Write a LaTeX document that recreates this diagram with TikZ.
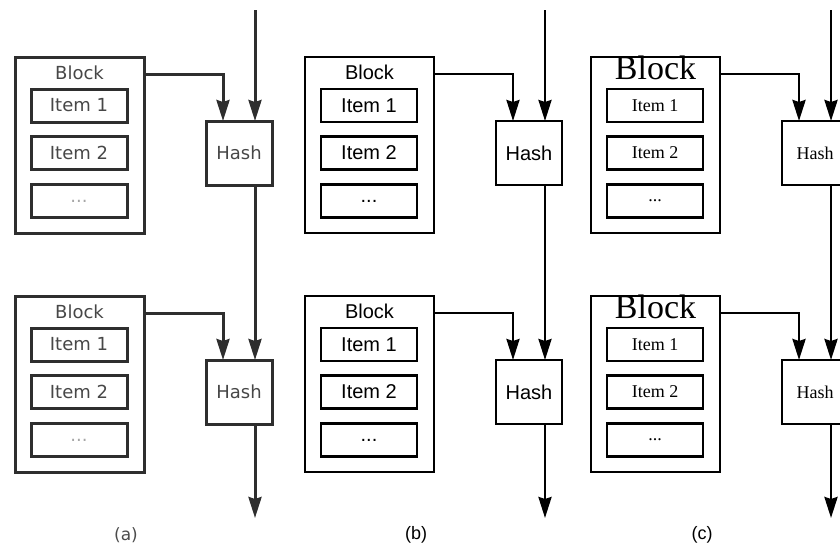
\documentclass[tikz,border=0pt]{standalone}
\usepackage{fontspec}
\usetikzlibrary{arrows.meta}
\newfontfamily\sansf{Liberation Sans}
\newfontfamily\serff{Liberation Serif}
\newfontfamily\dejaf{DejaVu Sans}

\tikzset{
	blockbox/.style={draw,ln,minimum width=129pt,minimum height=176pt,inner sep=0,outer sep=0},
	itembox/.style={draw,ln,txt,minimum width=96pt,minimum height=33pt,inner sep=0,outer sep=0},
	hashbox/.style={draw,ln,txt,minimum width=66pt,minimum height=64pt,inner sep=0,outer sep=0},
	panel a/.style={
		ln/.style={draw=black!82,line width=3pt},
		txt/.style={font=\dejaf\fontsize{18}{20}\selectfont,text=black!72},
		ttl/.style={txt},
		dots/.style={text=black!35},
		sublbl/.style={font=\dejaf\fontsize{17}{19}\selectfont,text=black!70}},
	panel b/.style={
		ln/.style={draw=black,line width=2.6pt},
		txt/.style={font=\sansf\fontsize{20}{22}\selectfont},
		ttl/.style={txt},
		dots/.style={},
		sublbl/.style={font=\sansf\fontsize{18}{20}\selectfont}},
	panel c/.style={
		ln/.style={draw=black,line width=2.9pt},
		txt/.style={font=\serff\fontsize{18}{20}\selectfont},
		ttl/.style={font=\serff\fontsize{34}{36}\selectfont},
		dots/.style={},
		sublbl/.style={font=\sansf\fontsize{18}{20}\selectfont}},
	>={Stealth[length=21pt,width=13pt,inset=2pt]}
}

\begin{document}
\begin{tikzpicture}[x=1pt,y=-1pt]
	\useasboundingbox (0,0) rectangle (840,546);
	\clip (0,0) rectangle (840,546);
	\foreach \dx/\p in {0/a,290/b,576/c} {
		\begin{scope}[xshift=\dx pt,panel \p]
			\foreach \r/\dy in {1/0,2/239} {
				% block with its items
				\node[blockbox] (blk\r\p) at (79.5,145+\dy) {};
				\node[ttl,anchor=base] (ttl\r\p) at (79.5,79+\dy) {Block};
				\node[itembox] (it\r1\p) at (79,105.5+\dy) {Item 1};
				\node[itembox] (it\r2\p) at (79,153+\dy) {Item 2};
				\node[itembox,dots] (it\r3\p) at (79,201+\dy) {...};
				% hash of the block
				\node[hashbox] (hash\r\p) at (239,153+\dy) {Hash};
				\draw[ln,->] ([yshift=-17pt]blk\r\p.north east) -| ([xshift=-16pt]hash\r\p.north);
			}
			\coordinate (top\p) at (255,10);
			\coordinate (end\p) at (255,518);
			\draw[ln,->] (top\p) -- ([xshift=16pt]hash1\p.north);
			\draw[ln,->] ([xshift=16pt]hash1\p.south) -- ([xshift=16pt]hash2\p.north);
			\draw[ln,->] ([xshift=16pt]hash2\p.south) -- (end\p);
			\node[sublbl] (lbl\p) at (126,535) {(\p)};
		\end{scope}
	}
\end{tikzpicture}
\end{document}
